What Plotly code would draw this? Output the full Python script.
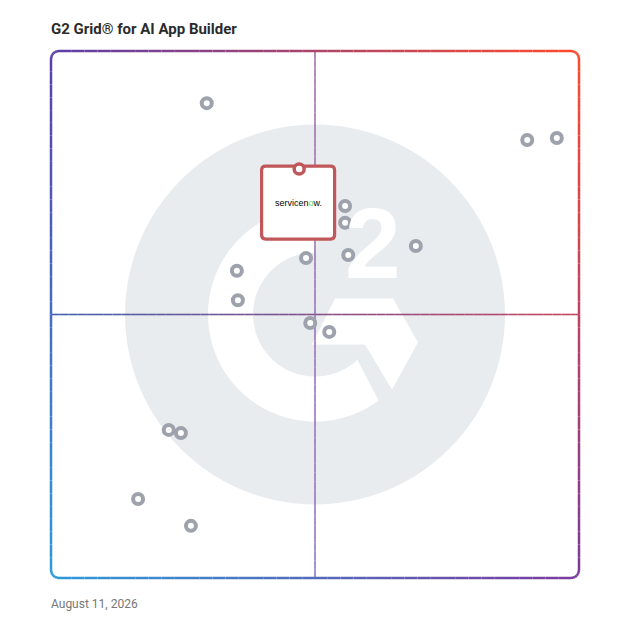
import numpy as np
import plotly.graph_objects as go

# G2 Grid for AI App Builder -- positions (0-100 on both axes)
# x = satisfaction, y = market presence
satisfaction = [29.5, 90.2, 95.8, 55.7, 55.7, 69.1, 48.3, 56.3, 35.2, 35.4, 49.1, 52.7, 22.3, 24.6, 16.5, 26.5]
market_presence = [90.1, 83.1, 83.5, 70.6, 67.4, 63.0, 60.7, 61.3, 58.3, 52.7, 48.4, 46.7, 28.1, 27.5, 15.0, 9.9]

highlight_name = "ServiceNow"
highlight_x = [47.0]
highlight_y = [77.6]

title_text = "G2 Grid® for AI App Builder"
date_text = "August 11, 2026"

# pixel scale of the grid box (528 x 527 px for 100 units)
SX, SY = 5.28, 5.27
PAD = 10  # px of room around the box so the frame isn't clipped

TL, TR = (91, 63, 169), (255, 74, 42)
BL, BR = (45, 154, 217), (122, 58, 156)


def lerp(a, b, t):
    return tuple(a[i] + (b[i] - a[i]) * t for i in range(3))


def rgb(c):
    return "rgb(%d,%d,%d)" % tuple(int(round(k)) for k in c)


def grad(u, v):
    return rgb(lerp(lerp(TL, TR, u), lerp(BL, BR, u), v))


def to_data(dx, dy):
    # pixel offsets (x right, y up) from grid centre -> data units
    return 50 + dx / SX, 50 + dy / SY


shapes = []

# --- G2 logo watermark ---
R_BIG = 190
shapes.append(dict(type="circle", xref="x", yref="y", layer="below",
                   x0=50 - R_BIG / SX, x1=50 + R_BIG / SX,
                   y0=50 - R_BIG / SY, y1=50 + R_BIG / SY,
                   fillcolor="#e9ecef", line=dict(width=0)))


def poly_path(pts):
    s = "M %.3f %.3f" % pts[0]
    for p in pts[1:]:
        s += " L %.3f %.3f" % p
    return s + " Z"


Ro, Ri = 107, 62
outer = [to_data(Ro * np.cos(np.radians(a)), Ro * np.sin(np.radians(a)))
         for a in np.linspace(89, 306.5, 90)]
inner = [to_data(Ri * np.cos(np.radians(a)), Ri * np.sin(np.radians(a)))
         for a in np.linspace(313, 89, 90)]
shapes.append(dict(type="path", xref="x", yref="y", layer="below",
                   path=poly_path(outer + inner), fillcolor="white", line=dict(width=0)))

chevron = [to_data(*p) for p in [(20, 16), (78, 16), (103, -28), (77, -75), (50, -30), (-3, -30)]]
shapes.append(dict(type="path", xref="x", yref="y", layer="below",
                   path=poly_path(chevron), fillcolor="white", line=dict(width=0)))

# --- quadrant lines (gradient) ---
n = 60
for i in range(n):
    t0, t1 = i / n, (i + 1) / n
    tm = (t0 + t1) / 2
    shapes.append(dict(type="line", xref="x", yref="y", layer="below",
                       x0=t0 * 100, x1=t1 * 100, y0=50, y1=50,
                       line=dict(color=rgb(lerp((66, 96, 178), (198, 68, 94), tm)), width=1.6)))
    shapes.append(dict(type="line", xref="x", yref="y", layer="below",
                       x0=50, x1=50, y0=100 - t0 * 100, y1=100 - t1 * 100,
                       line=dict(color=rgb(lerp((166, 112, 172), (146, 118, 198), tm)), width=1.6)))

# --- gradient frame with rounded corners ---
W, H, r = 528, 527, 8
frame = []


def arc(cx, cy, a0, a1):
    return [(cx + r * np.cos(np.radians(a)), cy - r * np.sin(np.radians(a))) for a in np.linspace(a0, a1, 7)]


def edge(p0, p1, k=40):
    return [(p0[0] + (p1[0] - p0[0]) * j / k, p0[1] + (p1[1] - p0[1]) * j / k) for j in range(k + 1)]


frame += arc(r, r, 180, 90)
frame += edge((r, 0), (W - r, 0))
frame += arc(W - r, r, 90, 0)
frame += edge((W, r), (W, H - r))
frame += arc(W - r, H - r, 0, -90)
frame += edge((W - r, H), (r, H))
frame += arc(r, H - r, -90, -180)
frame += edge((0, H - r), (0, r))

for a, b in zip(frame[:-1], frame[1:]):
    if a == b:
        continue
    mx, my = (a[0] + b[0]) / 2, (a[1] + b[1]) / 2
    shapes.append(dict(type="line", xref="x", yref="y", layer="below",
                       x0=a[0] / SX, x1=b[0] / SX, y0=100 - a[1] / SY, y1=100 - b[1] / SY,
                       line=dict(color=grad(mx / W, my / H), width=2.5)))

# --- ServiceNow card (built around the highlighted point) ---
hx, hy = highlight_x[0], highlight_y[0]
bw, bh, br = 73 / SX, 73 / SY, 4
bx0, bx1 = hx - bw / 2 - 0.2, hx + bw / 2 - 0.2
by1 = hy + 3 / SY
by0 = by1 - bh
rx, ry = br / SX, br / SY
card = ("M %f %f L %f %f Q %f %f %f %f L %f %f Q %f %f %f %f L %f %f Q %f %f %f %f L %f %f Q %f %f %f %f Z" % (
    bx0 + rx, by1, bx1 - rx, by1, bx1, by1, bx1, by1 - ry,
    bx1, by0 + ry, bx1, by0, bx1 - rx, by0,
    bx0 + rx, by0, bx0, by0, bx0, by0 + ry,
    bx0, by1 - ry, bx0, by1, bx0 + rx, by1))
shapes.append(dict(type="path", xref="x", yref="y", layer="below", path=card,
                   fillcolor="white", line=dict(color="#c0585a", width=3.2)))

fig = go.Figure()
fig.add_trace(go.Scatter(
    x=satisfaction, y=market_presence, mode="markers",
    marker=dict(size=10, color="white", line=dict(color="#9da2ac", width=4)),
    hoverinfo="x+y", showlegend=False))
fig.add_trace(go.Scatter(
    x=highlight_x, y=highlight_y, mode="markers", name=highlight_name,
    marker=dict(size=10, color="white", line=dict(color="#c0585a", width=3.5)),
    showlegend=False))

annotations = [
    dict(text="<b>2</b>", x=to_data(58, 72)[0], y=to_data(58, 72)[1], xref="x", yref="y",
         showarrow=False, font=dict(family="Liberation Sans", size=100, color="white")),
    dict(text="servicen<span style='color:#62d84e'>o</span>w.", x=(bx0 + bx1) / 2, y=hy - 34 / SY,
         xref="x", yref="y", showarrow=False,
         font=dict(family="Liberation Sans", size=9, color="#000000")),
    dict(text="<b>" + title_text + "</b>", x=(49 - 41) / 548, y=(588 - 29) / 547,
         xref="paper", yref="paper", xanchor="left", yanchor="middle", showarrow=False,
         font=dict(family="Roboto", size=15, color="#2b2b2b")),
    dict(text=date_text, x=(49 - 41) / 548, y=(588 - 604) / 547,
         xref="paper", yref="paper", xanchor="left", yanchor="middle", showarrow=False,
         font=dict(family="Roboto", size=12, color="#777777")),
]

# page body adds an 8px offset, so the figure is drawn 620x620
fig.update_layout(
    width=620, height=620,
    margin=dict(l=33, r=39, t=33, b=40),
    paper_bgcolor="white", plot_bgcolor="white",
    xaxis=dict(range=[-PAD / SX, 100 + PAD / SX], visible=False, fixedrange=True),
    yaxis=dict(range=[-PAD / SY, 100 + PAD / SY], visible=False, fixedrange=True),
    shapes=shapes, annotations=annotations,
)

fig.write_html("out.html")
